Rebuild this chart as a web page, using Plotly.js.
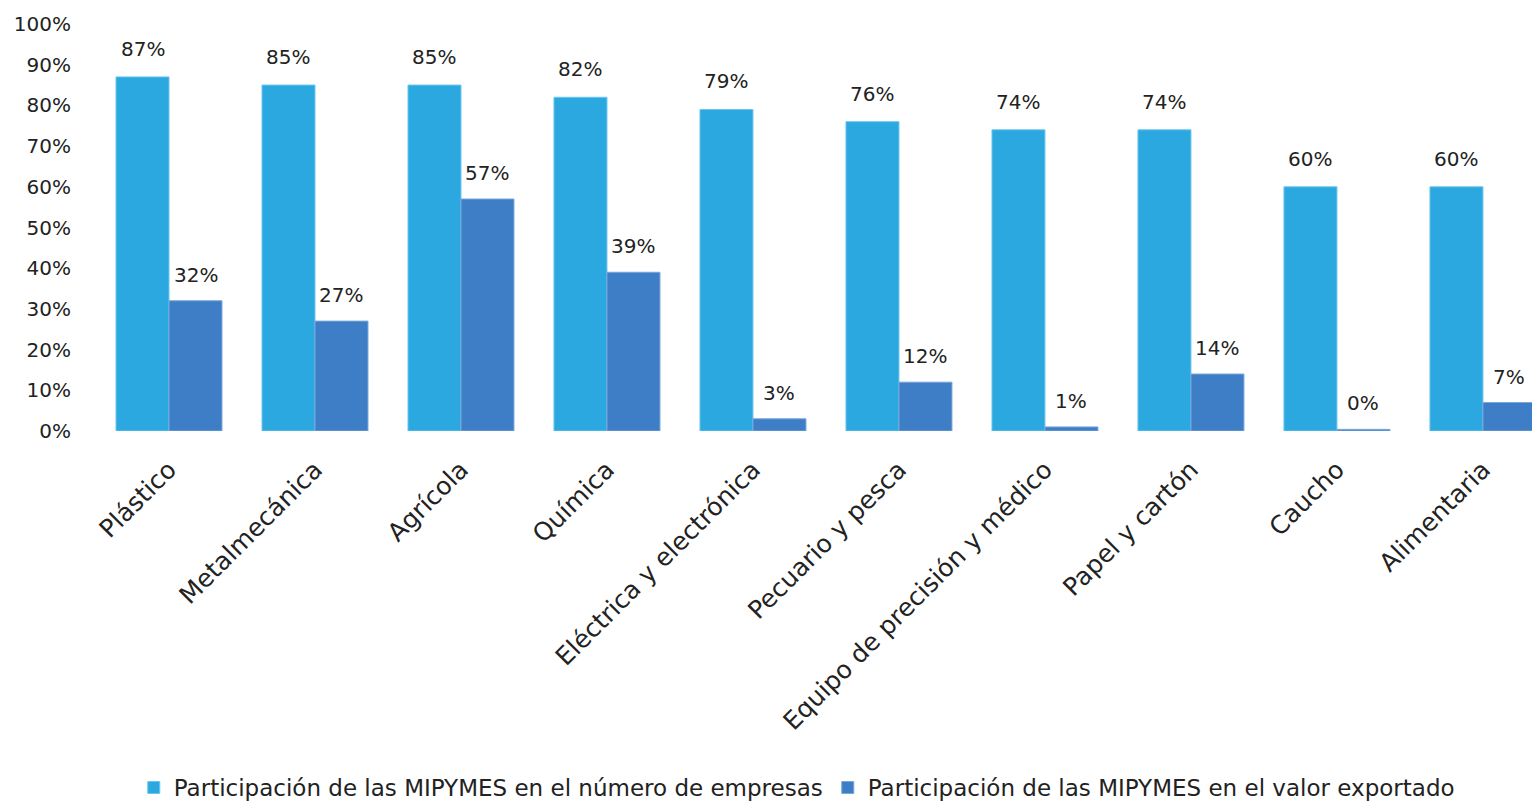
<!DOCTYPE html>
<html><head><meta charset="utf-8">
<script src="https://cdn.plot.ly/plotly-3.0.1.min.js"></script>
<style>html,body{margin:0;padding:0;overflow:hidden;background:#fff}</style>
</head><body>
<div id="chart" style="width:1532px;height:802px"></div>
<script>
const categories = ["Plástico","Metalmecánica","Agrícola","Química","Eléctrica y electrónica","Pecuario y pesca","Equipo de precisión y médico","Papel y cartón","Caucho","Alimentaria"];
const empresas = [87,85,85,82,79,76,74,74,60,60];
const exportado = [32,27,57,39,3,12,1,14,0.4,7];
const seriesNames = ["Participación de las MIPYMES en el número de empresas","Participación de las MIPYMES en el valor exportado"];
const yTicks = [0,10,20,30,40,50,60,70,80,90,100];
const yTickText = yTicks.map(v => v + "%");

const FONT = "DejaVu Sans, sans-serif";
const data = [
  {type:"bar", x:categories, y:empresas, name:seriesNames[0],
   marker:{color:"#2AA8DF", line:{color:"#6CC6EE", width:1}}},
  {type:"bar", x:categories, y:exportado, name:seriesNames[1],
   marker:{color:"#3D7EC6", line:{color:"#7AA6DA", width:1}}}
];
const annotations = [];
categories.forEach((c,i)=>{
  annotations.push({x:c, y:empresas[i], xref:"x", yref:"y", text:Math.round(empresas[i])+"%", showarrow:false, xshift:-26.5, yshift:28, font:{size:20,color:"#222"}});
  annotations.push({x:c, y:exportado[i], xref:"x", yref:"y", text:Math.round(exportado[i])+"%", showarrow:false, xshift:26.5, yshift:26, font:{size:20,color:"#222"}});
});
const layout = {
  width:1532, height:802,
  margin:{l:96, r:0, t:24, b:371, autoexpand:false},
  paper_bgcolor:"#fff", plot_bgcolor:"#fff",
  font:{family:FONT, color:"#222", size:20},
  barmode:"group", bargap:0.274, bargroupgap:0,
  showlegend:true,
  legend:{orientation:"h", x:0.488, xanchor:"center", yref:"container", y:0.018, yanchor:"middle", font:{size:23, color:"#222"}, itemwidth:30},
  xaxis:{type:"category", range:[-0.5, 9.336], tickangle:-45, tickfont:{size:25, color:"#222"}, showline:false, showgrid:false, ticks:"", zeroline:false, ticklabelstandoff:18, automargin:false},
  yaxis:{range:[0,100], tickvals:yTicks, ticktext:yTickText, showgrid:false, zeroline:false, showline:false, ticks:"", ticklabelstandoff:24, tickfont:{size:20,color:"#222"}, automargin:false},
  annotations:annotations
};
Plotly.newPlot("chart", data, layout, {displayModeBar:false, staticPlot:true});
</script>
</body></html>
